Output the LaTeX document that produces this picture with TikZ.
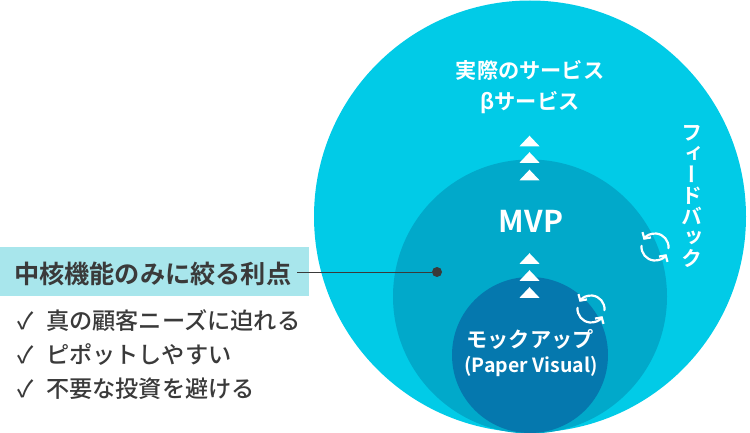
\documentclass[tikz,border=0pt]{standalone}
\usepackage{fontspec}
\usetikzlibrary{arrows.meta}
\setmainfont{Noto Sans CJK JP}
\newfontfamily\itemjp{Noto Sans CJK JP Medium}
\newfontfamily\medjp{Noto Sans CJK JP Bold}
\newfontfamily\headjp{Noto Sans CJK JP Bold}
\newfontfamily\vertjp[RawFeature=+vert]{Noto Sans CJK JP Bold}
\definecolor{outerc}{HTML}{01CBE7}
\definecolor{midc}{HTML}{01A9CA}
\definecolor{innerc}{HTML}{0578AE}
\definecolor{bandc}{HTML}{A8E6EC}
\definecolor{inkc}{HTML}{3A3A3A}
\tikzset{
  x=1pt,y=-1pt,
  disc/.style={circle,inner sep=0pt,minimum size=#1},
  wlabel/.style={text=white,inner sep=0pt,font=\medjp\fontsize{21.2}{24}\selectfont},
  listitem/.style={text=inkc,inner sep=0pt,anchor=west,font=\itemjp\fontsize{23.2}{26}\selectfont},
  pics/refresh/.style={code={
    \begin{scope}[x=1pt,y=1pt,line width=2.2pt,draw=white,line cap=round,
      >={Straight Barb[length=4.5pt,width=10pt]}]
      \draw[->] (-5:13.5) arc (-5:148:13.5);
      \draw[->] (175:13.5) arc (175:328:13.5);
    \end{scope}}},
  pics/tri/.style={code={
    \fill[white,x=1pt,y=1pt] (-10,-5.3) -- (10,-5.3) -- (0,5.3) -- cycle;}},
}
\begin{document}
\begin{tikzpicture}
\useasboundingbox (0,0) rectangle (750,433);
\node[disc=432pt,fill=outerc] (outer) at (530,216.5) {};
\node[disc=274pt,fill=midc] (mid) at (530,296.5) {};
\node[disc=156pt,fill=innerc] (inner) at (530,355) {};
\node[anchor=west,fill=bandc,inner sep=0pt,minimum width=309pt,minimum height=49pt] (band) at (0,271.5) {};
\node[anchor=west,inner sep=0pt,text=inkc,font=\headjp\fontsize{25.2}{28}\selectfont] (head) at (14,274) {中核機能のみに絞る利点};
\node[wlabel] (real) at (530,70) {実際のサービス};
\node[wlabel] (beta) at (530,102.5) {βサービス};
\node[wlabel,font=\headjp\fontsize{30}{34}\selectfont] (mvp) at (531,221) {MVP};
\node[wlabel] (mock) at (530,339) {モックアップ};
\node[wlabel,font=\medjp\fontsize{19.5}{24}\selectfont] (paper) at (531,366) {(Paper Visual)};
\node[text=white,inner sep=0pt,align=center,font=\vertjp\fontsize{21}{21}\selectfont] (fb) at (692,196.5) {フ\\ィ\\ー\\ド\\バ\\ッ\\ク};
\foreach \y in {141,157.5,175,258.5,275.5,292.5}
  \pic at (529.5,\y) {tri};
\pic at (655,247) {refresh};
\pic at (591,309) {refresh};
\node[circle,fill=inkc,inner sep=0pt,minimum size=10pt] (dot) at (437,272) {};
\coordinate (linestart) at (297,272);
\draw[inkc,line width=1pt] (linestart) -- (dot);
\node[listitem] (a) at (17,321) {\makebox[29pt][l]{✓}真の顧客ニーズに迫れる};
\node[listitem] (b) at (17,355) {\makebox[29pt][l]{✓}ピポットしやすい};
\node[listitem] (c) at (17,389) {\makebox[29pt][l]{✓}不要な投資を避ける};
\end{tikzpicture}
\end{document}
